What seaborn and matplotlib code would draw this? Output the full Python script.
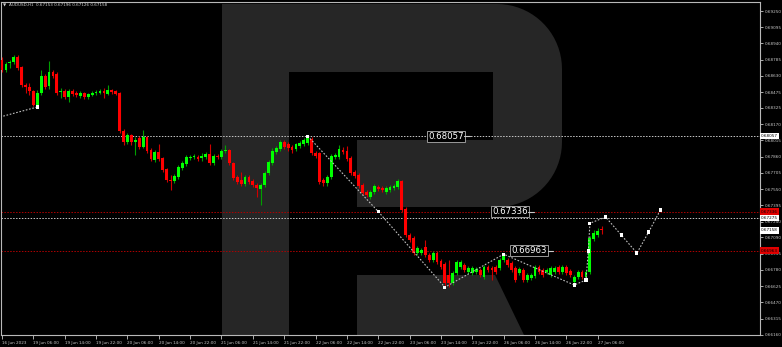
import numpy as np
import pandas as pd
import matplotlib
matplotlib.use("Agg")
import matplotlib.pyplot as plt
from matplotlib.patches import Polygon
from matplotlib.transforms import blended_transform_factory
import seaborn as sns

# ---------------- data (AUDUSD H1, prices) ----------------
opens = [0.68783, 0.68687, 0.68754, 0.68764, 0.68811, 0.68716, 0.68544, 0.68525, 0.68487, 0.68353,
         0.68468, 0.68630, 0.68535, 0.68668, 0.68649, 0.68477, 0.68487, 0.68430, 0.68487, 0.68468,
         0.68439, 0.68468, 0.68430, 0.68449, 0.68468, 0.68468, 0.68487, 0.68458, 0.68496, 0.68487,
         0.68468, 0.68105, 0.68000, 0.68067, 0.68000, 0.68038, 0.67953, 0.68048, 0.67924, 0.67829,
         0.67905, 0.67848, 0.67743, 0.67638, 0.67628, 0.67666, 0.67752, 0.67790, 0.67848, 0.67857,
         0.67857, 0.67848, 0.67857, 0.67886, 0.67800, 0.67867, 0.67857, 0.67914, 0.67924, 0.67800,
         0.67666, 0.67638, 0.67600, 0.67666, 0.67628, 0.67590, 0.67552, 0.67590, 0.67705, 0.67800,
         0.67905, 0.67934, 0.68000, 0.67981, 0.67953, 0.67934, 0.67962, 0.67981, 0.67991, 0.68029,
         0.67895, 0.67895, 0.67638, 0.67609, 0.67666, 0.67857, 0.67857, 0.67924, 0.67914, 0.67848,
         0.67714, 0.67685, 0.67590, 0.67523, 0.67476, 0.67523, 0.67571, 0.67561, 0.67523, 0.67542,
         0.67561, 0.67571, 0.67628, 0.67361, 0.67113, 0.67084, 0.66941, 0.66941, 0.66999, 0.66922,
         0.66875, 0.66941, 0.66865, 0.66836, 0.66731, 0.66655, 0.66751, 0.66808, 0.66827, 0.66760,
         0.66751, 0.66760, 0.66779, 0.66712, 0.66808, 0.66798, 0.66808, 0.66798, 0.66875, 0.66875,
         0.66846, 0.66798, 0.66751, 0.66779, 0.66684, 0.66703, 0.66722, 0.66808, 0.66779, 0.66760,
         0.66731, 0.66760, 0.66808, 0.66760, 0.66808, 0.66770, 0.66665, 0.66712, 0.66760, 0.66712,
         0.66760, 0.67075, 0.67113, 0.67170]
highs = [0.68811, 0.68764, 0.68783, 0.68830, 0.68830, 0.68725, 0.68563, 0.68563, 0.68496, 0.68496,
         0.68687, 0.68649, 0.68773, 0.68687, 0.68668, 0.68515, 0.68506, 0.68506, 0.68506, 0.68487,
         0.68487, 0.68477, 0.68468, 0.68487, 0.68496, 0.68506, 0.68515, 0.68544, 0.68506, 0.68496,
         0.68477, 0.68124, 0.68086, 0.68077, 0.68048, 0.68058, 0.68115, 0.68058, 0.67943, 0.67924,
         0.67981, 0.67857, 0.67752, 0.67685, 0.67695, 0.67781, 0.67819, 0.67876, 0.67876, 0.67886,
         0.67876, 0.67895, 0.67905, 0.67981, 0.67886, 0.67886, 0.67934, 0.67972, 0.67934, 0.67810,
         0.67685, 0.67714, 0.67685, 0.67685, 0.67647, 0.67609, 0.67609, 0.67724, 0.67829, 0.67943,
         0.67962, 0.68019, 0.68019, 0.68000, 0.67972, 0.67991, 0.68010, 0.68038, 0.68058, 0.68048,
         0.67914, 0.67905, 0.67657, 0.67685, 0.67886, 0.67895, 0.67972, 0.67953, 0.67962, 0.67867,
         0.67733, 0.67705, 0.67609, 0.67542, 0.67542, 0.67600, 0.67590, 0.67581, 0.67581, 0.67590,
         0.67600, 0.67647, 0.67638, 0.67380, 0.67132, 0.67104, 0.67008, 0.66989, 0.67065, 0.66941,
         0.66960, 0.66960, 0.66884, 0.66856, 0.66875, 0.66770, 0.66875, 0.66875, 0.66846, 0.66817,
         0.66817, 0.66808, 0.66798, 0.66827, 0.66827, 0.66817, 0.66827, 0.66894, 0.66932, 0.66894,
         0.66865, 0.66817, 0.66808, 0.66798, 0.66751, 0.66751, 0.66827, 0.66827, 0.66798, 0.66798,
         0.66817, 0.66817, 0.66827, 0.66827, 0.66827, 0.66789, 0.66731, 0.66779, 0.66779, 0.66779,
         0.67104, 0.67161, 0.67180, 0.67196]
lows = [0.68668, 0.68668, 0.68706, 0.68744, 0.68687, 0.68525, 0.68468, 0.68449, 0.68344, 0.68334,
        0.68449, 0.68506, 0.68506, 0.68611, 0.68449, 0.68420, 0.68411, 0.68382, 0.68439, 0.68430,
        0.68420, 0.68411, 0.68411, 0.68439, 0.68449, 0.68458, 0.68420, 0.68449, 0.68458, 0.68449,
        0.68086, 0.67972, 0.67981, 0.67972, 0.67876, 0.67934, 0.67943, 0.67895, 0.67819, 0.67810,
        0.67819, 0.67714, 0.67619, 0.67542, 0.67609, 0.67647, 0.67733, 0.67771, 0.67829, 0.67838,
        0.67819, 0.67819, 0.67838, 0.67781, 0.67781, 0.67838, 0.67838, 0.67895, 0.67781, 0.67638,
        0.67600, 0.67581, 0.67581, 0.67600, 0.67571, 0.67476, 0.67399, 0.67571, 0.67685, 0.67781,
        0.67886, 0.67914, 0.67934, 0.67914, 0.67895, 0.67914, 0.67943, 0.67962, 0.67972, 0.67876,
        0.67848, 0.67600, 0.67581, 0.67581, 0.67647, 0.67838, 0.67838, 0.67886, 0.67819, 0.67685,
        0.67657, 0.67561, 0.67495, 0.67476, 0.67457, 0.67504, 0.67533, 0.67523, 0.67504, 0.67523,
        0.67542, 0.67552, 0.67333, 0.67094, 0.67046, 0.66922, 0.66922, 0.66922, 0.66903, 0.66856,
        0.66856, 0.66836, 0.66789, 0.66617, 0.66617, 0.66636, 0.66731, 0.66789, 0.66760, 0.66741,
        0.66731, 0.66741, 0.66712, 0.66693, 0.66760, 0.66684, 0.66741, 0.66779, 0.66856, 0.66808,
        0.66760, 0.66665, 0.66731, 0.66665, 0.66665, 0.66684, 0.66703, 0.66741, 0.66712, 0.66741,
        0.66712, 0.66741, 0.66741, 0.66741, 0.66731, 0.66712, 0.66636, 0.66693, 0.66693, 0.66684,
        0.66741, 0.67056, 0.67094, 0.67126]
closes = [0.68687, 0.68744, 0.68764, 0.68811, 0.68706, 0.68544, 0.68525, 0.68487, 0.68353, 0.68468,
          0.68630, 0.68525, 0.68668, 0.68630, 0.68468, 0.68487, 0.68430, 0.68487, 0.68458, 0.68449,
          0.68468, 0.68430, 0.68458, 0.68468, 0.68477, 0.68487, 0.68468, 0.68496, 0.68477, 0.68458,
          0.68105, 0.68000, 0.68067, 0.68000, 0.68019, 0.67953, 0.68048, 0.67914, 0.67838, 0.67905,
          0.67838, 0.67733, 0.67638, 0.67628, 0.67676, 0.67762, 0.67800, 0.67857, 0.67857, 0.67867,
          0.67838, 0.67867, 0.67886, 0.67800, 0.67867, 0.67857, 0.67914, 0.67924, 0.67800, 0.67657,
          0.67619, 0.67600, 0.67666, 0.67619, 0.67590, 0.67561, 0.67590, 0.67705, 0.67810, 0.67914,
          0.67943, 0.68000, 0.67953, 0.67943, 0.67924, 0.67981, 0.67991, 0.68019, 0.68048, 0.67895,
          0.67867, 0.67619, 0.67609, 0.67666, 0.67867, 0.67876, 0.67934, 0.67905, 0.67838, 0.67705,
          0.67676, 0.67581, 0.67514, 0.67495, 0.67523, 0.67581, 0.67552, 0.67542, 0.67561, 0.67571,
          0.67581, 0.67628, 0.67352, 0.67113, 0.67065, 0.66941, 0.66989, 0.66970, 0.66922, 0.66875,
          0.66941, 0.66856, 0.66808, 0.66655, 0.66655, 0.66751, 0.66856, 0.66856, 0.66779, 0.66798,
          0.66798, 0.66789, 0.66731, 0.66808, 0.66779, 0.66779, 0.66760, 0.66875, 0.66922, 0.66827,
          0.66779, 0.66684, 0.66789, 0.66684, 0.66731, 0.66731, 0.66808, 0.66760, 0.66731, 0.66779,
          0.66798, 0.66798, 0.66760, 0.66808, 0.66751, 0.66731, 0.66712, 0.66760, 0.66712, 0.66760,
          0.67084, 0.67132, 0.67151, 0.67158]

time_labels = ["16 Jun 2023", "19 Jun 06:00", "19 Jun 14:00", "19 Jun 22:00", "20 Jun 06:00",
               "20 Jun 14:00", "20 Jun 22:00", "21 Jun 06:00", "21 Jun 14:00", "21 Jun 22:00",
               "22 Jun 06:00", "22 Jun 14:00", "22 Jun 22:00", "23 Jun 06:00", "23 Jun 14:00",
               "23 Jun 22:00", "26 Jun 06:00", "26 Jun 14:00", "26 Jun 22:00", "27 Jun 06:00"]
time_label_bars = [0, 8, 16, 24, 32, 40, 48, 56, 64, 72, 80, 88, 96, 104, 112, 120, 128, 136, 144, 152]

price_ticks = [0.69250, 0.69095, 0.68940, 0.68785, 0.68630, 0.68475, 0.68325, 0.68170, 0.68015,
               0.67860, 0.67705, 0.67550, 0.67395, 0.67240, 0.67090, 0.66935, 0.66780, 0.66625,
               0.66470, 0.66315, 0.66160]

# forecast / wave path (bar index, price)
path1_bars = [-0.5, 9]
path1_prices = [0.68239, 0.68334]
path2_bars = [78, 96, 113, 128, 146, 149, 149.6, 150, 154, 158, 162, 165, 168]
path2_prices = [0.68057, 0.67336, 0.66615, 0.66930, 0.66636, 0.66684, 0.66960, 0.67225,
                0.67285, 0.67113, 0.66941, 0.67142, 0.67352]

white_levels = [0.68057, 0.67275]
red_levels = [0.67336, 0.66963]
level_labels = ["0.68057", "0.67336", "0.66963"]
level_label_prices = [0.68057, 0.67336, 0.66963]
level_label_bars = [108.7, 125.0, 129.9]

header = "AUDUSD,H1  0.67153 0.67196 0.67126 0.67158"

# ---------------- style ----------------
sns.set_theme(style="dark", rc={"axes.facecolor": "black", "figure.facecolor": "black",
                                "axes.edgecolor": "#b8b8b8", "axes.grid": False,
                                "text.color": "#d0d0d0", "xtick.color": "#c8c8c8",
                                "ytick.color": "#c8c8c8"})
plt.rcParams['font.family'] = ['DejaVu Sans']

W, H = 782, 347
fig = plt.figure(figsize=(W / 100, H / 100), dpi=100)
fig.patch.set_facecolor("black")
L, R, T, B = 1, 760, 2, 335
ax = fig.add_axes([L / W, (H - B) / H, (R - L) / W, (B - T) / H])
ax.set_facecolor("black")

df = pd.DataFrame({"open": opens, "high": highs, "low": lows, "close": closes})
df["bar"] = np.arange(len(df))
up = (df["close"] >= df["open"]).to_numpy()


def P(x, y):
    return ((x - L) / (R - L), (B - y) / (B - T))


# ---------------- watermark logo ----------------
logo_col = "#262626"
pts = [(222, 4), (497, 4)]
for th in np.linspace(90, 0, 20):
    t = np.radians(th)
    pts.append((497 + 65 * np.cos(t), 69 - 65 * np.sin(t)))
pts.append((562, 142))
for th in np.linspace(0, -90, 20):
    t = np.radians(th)
    pts.append((497 + 65 * np.cos(t), 142 - 65 * np.sin(t)))
pts += [(497, 207), (357, 207), (357, 140), (493, 140), (493, 72), (289, 72), (289, 335), (222, 335)]
ax.add_patch(Polygon([P(*p) for p in pts], closed=True, transform=ax.transAxes,
                     facecolor=logo_col, edgecolor="none", zorder=0.5))
leg = [(357, 275), (495, 275), (524, 335), (357, 335)]
ax.add_patch(Polygon([P(*p) for p in leg], closed=True, transform=ax.transAxes,
                     facecolor=logo_col, edgecolor="none", zorder=0.5))

# ---------------- levels ----------------
for lv in white_levels:
    ax.axhline(lv, color="#c8c8c8", lw=0.7, ls=(0, (1.5, 1.5)), zorder=2)
for lv in red_levels:
    ax.axhline(lv, color="#b00000", lw=0.7, ls=(0, (1.5, 1.5)), zorder=2)

# ---------------- candles ----------------
wick_cols = np.where(up, "#00a000", "#d00000")
body_cols = np.where(up, "#00ff00", "#ff0000")
ax.vlines(df["bar"], df["low"], df["high"], colors=wick_cols, lw=0.8, zorder=3)
body_h = np.maximum((df["close"] - df["open"]).abs().to_numpy(), 0.00009)
ax.bar(df["bar"], body_h, bottom=np.minimum(df["open"], df["close"]), width=0.72,
       color=body_cols, linewidth=0, zorder=4)

# ---------------- wave path ----------------
p1 = pd.DataFrame({"bar": path1_bars, "price": path1_prices})
p2 = pd.DataFrame({"bar": path2_bars, "price": path2_prices})
for pdf in (p1, p2):
    sns.lineplot(data=pdf, x="bar", y="price", sort=False, estimator=None, ax=ax,
                 color="#bdbdbd", lw=0.8, linestyle=(0, (1.5, 1.5)), zorder=5)
sns.scatterplot(x=path1_bars[1:], y=path1_prices[1:], marker="s", s=5, color="white",
                edgecolor="none", ax=ax, zorder=6)
sns.scatterplot(x=path2_bars, y=path2_prices, marker="s", s=5, color="white",
                edgecolor="none", ax=ax, zorder=6)

# ---------------- level text labels ----------------
for txt, pr, b in zip(level_labels, level_label_prices, level_label_bars):
    t = ax.text(b, pr, txt, color="white", fontsize=6.2, ha="left", va="center", zorder=8,
                bbox=dict(boxstyle="square,pad=0.12", fc="black", ec="#9a9a9a", lw=0.7))
    ax.plot([b + 9.3, b + 10.8], [pr, pr], color="#c8c8c8", lw=0.8, zorder=8)

# ---------------- axes ----------------
ax.set_xlim(-0.26, 193.4)
ax.set_ylim(0.661591, 0.693359)
ax.set_xlabel("")
ax.set_ylabel("")
ax.set_xticks(time_label_bars)
ax.set_xticklabels(time_labels, ha="left")
ax.yaxis.tick_right()
ax.set_yticks(price_ticks)
ax.set_yticklabels([f"{v:.5f}" for v in price_ticks])
ax.tick_params(axis="x", bottom=True, length=3, width=0.6, labelsize=3, pad=1.5, colors="#c8c8c8")
ax.tick_params(axis="y", right=True, left=False, labelright=True, labelleft=False,
               length=2, width=0.6, labelsize=3, pad=1.5, colors="#c8c8c8")
for s in ax.spines.values():
    s.set_color("#b8b8b8")
    s.set_linewidth(0.8)

# right-axis price boxes
trans = blended_transform_factory(ax.transAxes, ax.transData)
boxes = [(0.68057, "0.68057", "white"), (0.67336, "0.67336", "#e00000"),
         (0.67275, "0.67275", "white"), (0.67158, "0.67158", "white"),
         (0.66963, "0.66963", "#e00000")]
for pr, txt, fc in boxes:
    ax.text(1.0015, pr, txt, transform=trans, fontsize=3, color="black", ha="left", va="center",
            clip_on=False, zorder=9,
            bbox=dict(boxstyle="square,pad=0.3", fc=fc, ec="none"))

fig.text(3 / W, 1 - 5.5 / H, "\u25bc", fontsize=3, color="#d0d0d0", va="center", ha="left")
fig.text(9 / W, 1 - 5.5 / H, header, fontsize=3, color="#d0d0d0", va="center", ha="left")

fig.savefig("out.png", dpi=100, facecolor="black")
